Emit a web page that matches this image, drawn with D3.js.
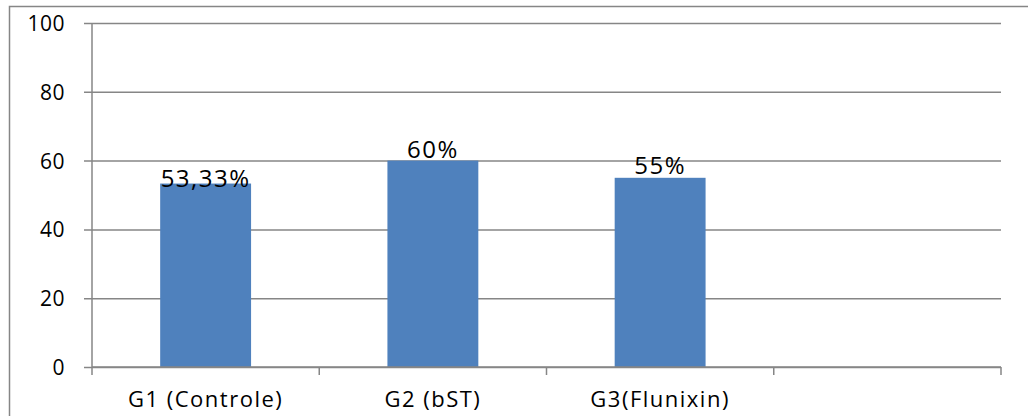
<!DOCTYPE html>
<html>
<head>
<meta charset="utf-8">
<script src="https://cdn.jsdelivr.net/npm/d3@7/dist/d3.min.js"></script>
<style>
  html, body { margin: 0; padding: 0; background: #fff; }
  svg { display: block; }
  text { font-family: "Open Sans", Lato, sans-serif; fill: #000; }
</style>
</head>
<body>
<svg id="chart" width="1028" height="416"></svg>
<script>
// Group names (the last category slot is empty)
const categories = ["G1 (Controle)", "G2 (bST)", "G3(Flunixin)", ""];
// Percentage per group
const values = [53.33, 60, 55, null];
// Text shown above each bar
const valueLabels = ["53,33%", "60%", "55%", ""];
// Y axis ticks
const yTicks = [0, 20, 40, 60, 80, 100];

const W = 1028, H = 416;
const plot = { left: 92, right: 1001, top: 23, bottom: 367 };
const gridColor = "#868686";
const barColor = "#4f81bd";
const fontFamily = "'Open Sans', Lato, sans-serif";

const svg = d3.select("#chart");

// Outer chart frame
svg.append("rect")
  .attr("x", 9.5).attr("y", 6.5)
  .attr("width", W + 10).attr("height", H + 10)
  .attr("fill", "none").attr("stroke", gridColor).attr("stroke-width", 1.5);

const x = d3.scaleBand()
  .domain(d3.range(categories.length))
  .range([plot.left, plot.right])
  .paddingInner(0).paddingOuter(0);

const y = d3.scaleLinear().domain([0, 100]).range([plot.bottom, plot.top]);

// Horizontal gridlines with outside ticks
const yAxis = d3.axisLeft(y)
  .tickValues(yTicks)
  .tickSize(-(plot.right - plot.left))
  .tickFormat(d3.format("d"));

const gy = svg.append("g")
  .attr("transform", `translate(${plot.left},0)`)
  .call(yAxis);
gy.select(".domain").remove();
gy.selectAll(".tick line")
  .attr("x1", -8)
  .attr("stroke", gridColor).attr("stroke-width", 1.5);
gy.selectAll(".tick text")
  .attr("x", -27)
  .attr("dy", "0.36em")
  .style("font-size", "21px")
  .style("font-family", fontFamily)
  .style("letter-spacing", "0.5px")
  .attr("fill", "#000");

// Vertical axis line
svg.append("line")
  .attr("x1", plot.left).attr("x2", plot.left)
  .attr("y1", plot.top).attr("y2", plot.bottom)
  .attr("stroke", gridColor).attr("stroke-width", 1.5);

// Bars
const idx = d3.range(categories.length).filter(i => values[i] != null);
const barW = x.bandwidth() * 0.4;
svg.append("g").selectAll("rect")
  .data(idx)
  .join("rect")
  .attr("x", i => x(i) + (x.bandwidth() - barW) / 2)
  .attr("y", i => y(values[i]))
  .attr("width", barW)
  .attr("height", i => y(0) - y(values[i]))
  .attr("fill", barColor);

// Category axis with tick marks at band boundaries
svg.append("line")
  .attr("x1", plot.left).attr("x2", plot.right)
  .attr("y1", plot.bottom).attr("y2", plot.bottom)
  .attr("stroke", gridColor).attr("stroke-width", 1.5);
const bounds = d3.range(categories.length + 1).map(i => plot.left + i * x.step());
svg.append("g").selectAll("line")
  .data(bounds)
  .join("line")
  .attr("x1", d => d).attr("x2", d => d)
  .attr("y1", plot.bottom).attr("y2", plot.bottom + 8)
  .attr("stroke", gridColor).attr("stroke-width", 1.5);

svg.append("g").selectAll("text")
  .data(d3.range(categories.length))
  .join("text")
  .attr("x", i => x(i) + x.bandwidth() / 2)
  .attr("y", 407)
  .attr("text-anchor", "middle")
  .style("font-size", "22px")
  .style("letter-spacing", "1.5px")
  .text(i => categories[i]);

// Value labels above bars
const labelNudge = [3, -3, -4];
svg.append("g").selectAll("text")
  .data(idx)
  .join("text")
  .attr("x", i => x(i) + x.bandwidth() / 2)
  .attr("y", i => y(values[i]) + (labelNudge[i] || 0))
  .attr("text-anchor", "middle")
  .style("font-size", "24px")
  .style("letter-spacing", "1.5px")
  .text(i => valueLabels[i]);
</script>
</body>
</html>
